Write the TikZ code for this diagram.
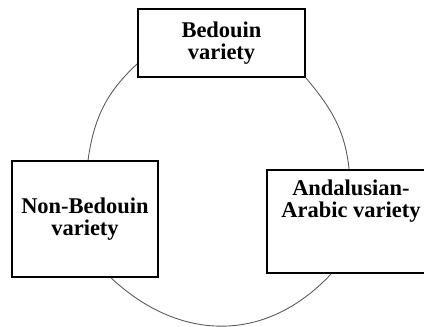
\documentclass[tikz,border=0pt]{standalone}
\usepackage{fontspec}
\setmainfont{Liberation Serif}
\usetikzlibrary{calc}

\begin{document}
\begin{tikzpicture}[x=0.02cm, y=0.02cm,
    varbox/.style={draw, line width=1.1pt, fill=white, inner sep=0pt},
    vartext/.style={align=center, inner sep=0pt, font=\fontsize{12.8}{12.5}\selectfont\bfseries},
    loopline/.style={draw=black!65, line width=0.5pt}]
    \clip (0, 0) rectangle (424, 327);

    \node[varbox, vartext, minimum width=3.34cm, minimum height=1.36cm] (bed) at (221.5, 284) {Bedouin\\variety}; % top
    \node[varbox, vartext, minimum width=2.92cm, minimum height=2.32cm] (nonbed) at (85, 108) {Non-Bedouin\\variety}; % left
    \node[varbox, minimum width=3.36cm, minimum height=2.06cm] (andal) at (351, 105.5) {}; % right
    \node[vartext, anchor=north] (andaltext) at ($(andal.north)+(0,-11)$) {Andalusian-\\Arabic variety};

    \draw[loopline] ($(bed.south west)+(0,14)$) to[out=223, in=82] ($(nonbed.north west)+(77,0)$); % upper left
    \draw[loopline] ($(nonbed.south west)+(100,0)$) to[out=-43, in=227, looseness=1.1] ($(andal.south west)+(65,0)$); % bottom
    \draw[loopline] ($(andal.north west)+(83,0)$) to[out=96, in=-50] (bed.south east); % upper right
\end{tikzpicture}
\end{document}
